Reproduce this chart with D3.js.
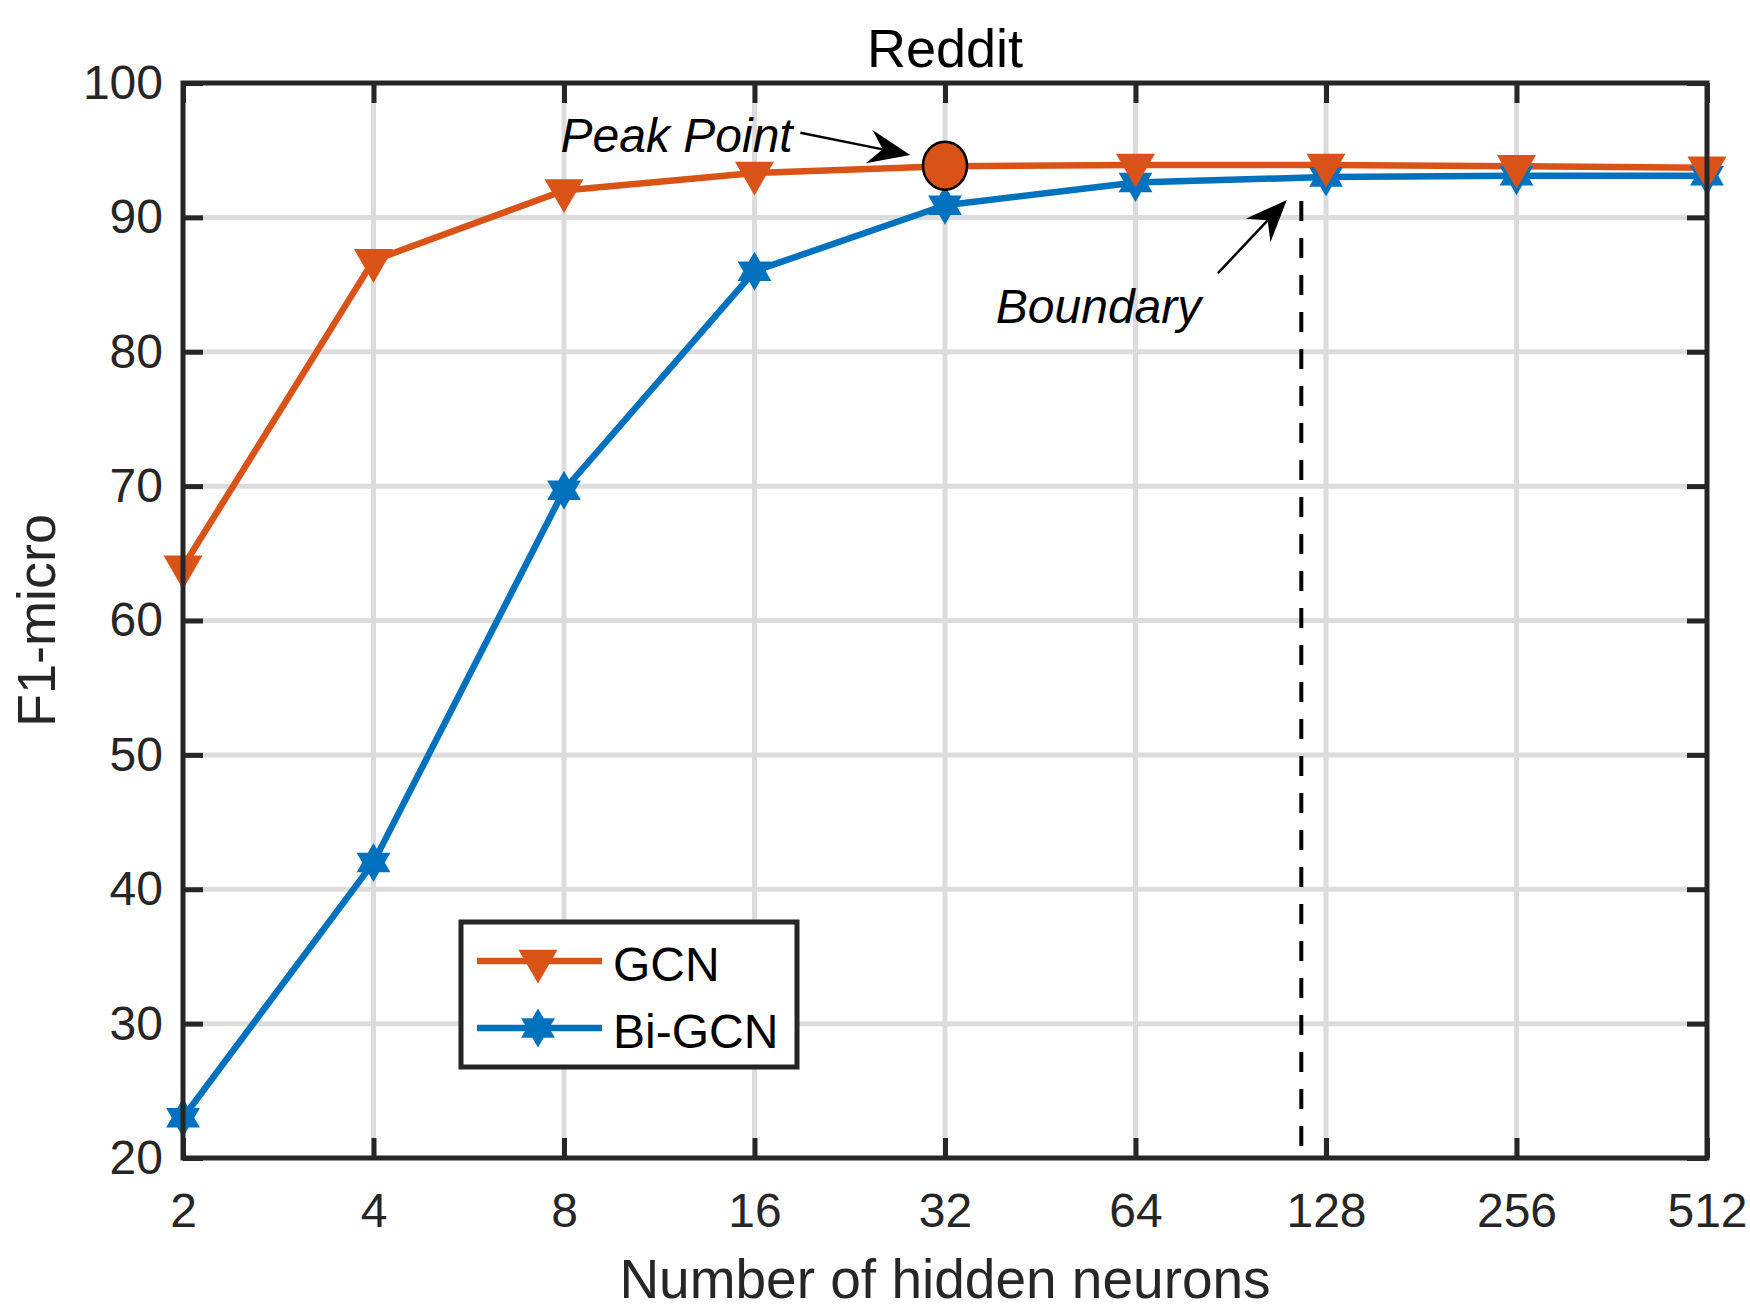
<!DOCTYPE html>
<html lang="en">
<head>
    <meta charset="UTF-8">
    <title>Reddit</title>
    <script src="https://cdn.jsdelivr.net/npm/d3@7"></script>
    <style>
        body { margin: 0; background: #fff; }
        text { font-family: "Liberation Sans", Arial, Helvetica, sans-serif; }
    </style>
</head>
<body>
<script>
    // data
    let neurons = [2, 4, 8, 16, 32, 64, 128, 256, 512];
    let gcn = [64, 86.8, 92, 93.3, 93.8, 93.9, 93.9, 93.8, 93.7];
    let biGcn = [23, 42, 69.7, 86, 90.9, 92.6, 93, 93.1, 93.1];
    let yTicks = [20, 30, 40, 50, 60, 70, 80, 90, 100];
    let seriesNames = ["GCN", "Bi-GCN"];

    // annotations (data coordinates)
    let peak = {x: 32, y: 93.85};
    let peakArrow = {x0: 18.9, y0: 96.3, x1: 28.2, y1: 94.65};
    let peakLabel = {x: 7.9, y: 94.85, text: "Peak Point"};
    let boundary = {x: 117, y0: 20.9, y1: 92.2};
    let boundaryArrow = {x0: 86.4, y0: 85.85, x1: 111, y1: 91.3};
    let boundaryLabel = {x: 38.5, y: 82.15, text: "Boundary"};

    let width = 1750, height = 1313;
    let padL = 183, padR = 1707, padT = 83, padB = 1158;
    let orange = "#D95319", blue = "#0072BD", axisColor = "#262626";

    let svg = d3.select("body").append("svg")
        .attr("width", width)
        .attr("height", height);

    let x = d3.scaleLog().base(2).domain([2, 512]).range([padL, padR]);
    let y = d3.scaleLinear().domain([20, 100]).range([padB, padT]);

    // grid
    svg.append("g").selectAll("line").data(neurons.slice(1, -1)).join("line")
        .attr("x1", d => x(d)).attr("x2", d => x(d))
        .attr("y1", padT).attr("y2", padB)
        .attr("stroke", "#dcdcdc").attr("stroke-width", 5);
    svg.append("g").selectAll("line").data(yTicks.slice(1, -1)).join("line")
        .attr("y1", d => y(d)).attr("y2", d => y(d))
        .attr("x1", padL).attr("x2", padR)
        .attr("stroke", "#dcdcdc").attr("stroke-width", 5);

    // axes with inward ticks on all four sides
    let tickLen = 20;
    function styleAxis(g) {
        g.select(".domain").remove();
        g.selectAll(".tick line").attr("stroke", axisColor).attr("stroke-width", 5);
        g.selectAll(".tick text")
            .attr("fill", axisColor)
            .attr("font-size", "48px");
    }

    svg.append("g")
        .attr("transform", "translate(0," + padB + ")")
        .call(d3.axisBottom(x).tickValues(neurons).tickFormat(d3.format("d"))
            .tickSizeInner(-tickLen).tickSizeOuter(0))
        .call(styleAxis)
        .call(g => g.selectAll(".tick text").attr("dy", "0.71em").attr("y", 35));

    svg.append("g")
        .attr("transform", "translate(0," + padT + ")")
        .call(d3.axisTop(x).tickValues(neurons).tickFormat("").tickSizeInner(-tickLen).tickSizeOuter(0))
        .call(styleAxis);

    svg.append("g")
        .attr("transform", "translate(" + padL + ",0)")
        .call(d3.axisLeft(y).tickValues(yTicks).tickSizeInner(-tickLen).tickSizeOuter(0))
        .call(styleAxis)
        .call(g => g.selectAll(".tick text").attr("x", -20));

    svg.append("g")
        .attr("transform", "translate(" + padR + ",0)")
        .call(d3.axisRight(y).tickValues(yTicks).tickFormat("").tickSizeInner(-tickLen).tickSizeOuter(0))
        .call(styleAxis);

    // dashed boundary
    svg.append("line")
        .attr("x1", x(boundary.x)).attr("x2", x(boundary.x))
        .attr("y1", y(boundary.y0)).attr("y2", y(boundary.y1))
        .attr("stroke", "#000").attr("stroke-width", 4)
        .attr("stroke-dasharray", "20,17");

    // markers
    let triangle = d3.symbol().type(d3.symbolTriangle).size(660);
    function hexagram(r) {
        let pts = [];
        for (let i = 0; i < 12; i++) {
            let a = -Math.PI / 2 + i * Math.PI / 6;
            let rr = i % 2 === 0 ? r : r / Math.sqrt(3);
            pts.push([rr * Math.cos(a), rr * Math.sin(a)]);
        }
        return "M" + pts.map(p => p.join(",")).join("L") + "Z";
    }

    let line = d3.line()
        .x((d, i) => x(neurons[i]))
        .y(d => y(d));

    svg.append("path")
        .attr("d", line(biGcn))
        .attr("fill", "none").attr("stroke", blue).attr("stroke-width", 6.5)
        .attr("stroke-linejoin", "round");
    svg.append("path")
        .attr("d", line(gcn))
        .attr("fill", "none").attr("stroke", orange).attr("stroke-width", 6.5)
        .attr("stroke-linejoin", "round");

    svg.append("g").selectAll("path").data(biGcn).join("path")
        .attr("transform", (d, i) => "translate(" + x(neurons[i]) + "," + y(d) + ")")
        .attr("d", hexagram(19.5))
        .attr("fill", blue);
    svg.append("g").selectAll("path").data(gcn).join("path")
        .attr("transform", (d, i) => "translate(" + x(neurons[i]) + "," + y(d) + ") rotate(180)")
        .attr("d", triangle())
        .attr("fill", orange);

    // peak point
    svg.append("ellipse")
        .attr("cx", x(peak.x)).attr("cy", y(peak.y))
        .attr("rx", 22).attr("ry", 24)
        .attr("fill", orange).attr("stroke", "#000").attr("stroke-width", 2.5);

    // arrows
    function arrow(a) {
        let x0 = x(a.x0), y0 = y(a.y0), x1 = x(a.x1), y1 = y(a.y1);
        let len = Math.hypot(x1 - x0, y1 - y0);
        let ux = (x1 - x0) / len, uy = (y1 - y0) / len;
        let px = -uy, py = ux;
        let L = 42, W = 17, N = 28;
        svg.append("line")
            .attr("x1", x0).attr("y1", y0)
            .attr("x2", x1 - ux * N).attr("y2", y1 - uy * N)
            .attr("stroke", "#000").attr("stroke-width", 2.5);
        let head = [
            [x1, y1],
            [x1 - ux * L + px * W, y1 - uy * L + py * W],
            [x1 - ux * N, y1 - uy * N],
            [x1 - ux * L - px * W, y1 - uy * L - py * W]
        ];
        svg.append("path")
            .attr("d", "M" + head.map(p => p.join(",")).join("L") + "Z")
            .attr("fill", "#000");
    }
    arrow(peakArrow);
    arrow(boundaryArrow);

    svg.append("text")
        .attr("x", x(peakLabel.x)).attr("y", y(peakLabel.y))
        .attr("font-size", "48px").attr("font-style", "italic")
        .text(peakLabel.text);
    svg.append("text")
        .attr("x", x(boundaryLabel.x)).attr("y", y(boundaryLabel.y))
        .attr("font-size", "48px").attr("font-style", "italic")
        .text(boundaryLabel.text);

    // frame
    svg.append("rect")
        .attr("x", padL).attr("y", padT)
        .attr("width", padR - padL).attr("height", padB - padT)
        .attr("fill", "none").attr("stroke", axisColor).attr("stroke-width", 5);

    // legend
    let legend = svg.append("g");
    legend.append("rect")
        .attr("x", 461).attr("y", 922).attr("width", 336).attr("height", 145)
        .attr("fill", "#fff").attr("stroke", axisColor).attr("stroke-width", 5);
    let legendRows = [
        {name: seriesNames[0], color: orange, y: 961, mark: "tri"},
        {name: seriesNames[1], color: blue, y: 1028, mark: "hex"}
    ];
    legendRows.forEach(r => {
        legend.append("line")
            .attr("x1", 477).attr("x2", 602).attr("y1", r.y).attr("y2", r.y)
            .attr("stroke", r.color).attr("stroke-width", 6.5);
        legend.append("path")
            .attr("transform", "translate(538," + r.y + ")" + (r.mark === "tri" ? " rotate(180)" : ""))
            .attr("d", r.mark === "tri" ? triangle() : hexagram(19.5))
            .attr("fill", r.color);
        legend.append("text")
            .attr("x", 613).attr("y", r.y + 20)
            .attr("font-size", "48px").attr("fill", "#000")
            .text(r.name);
    });

    // titles
    svg.append("text")
        .attr("x", (padL + padR) / 2).attr("y", 67)
        .attr("text-anchor", "middle").attr("font-size", "54px")
        .text("Reddit");
    svg.append("text")
        .attr("x", (padL + padR) / 2).attr("y", 1298)
        .attr("text-anchor", "middle").attr("font-size", "55px").attr("fill", axisColor)
        .text("Number of hidden neurons");
    svg.append("text")
        .attr("transform", "translate(55," + (padT + padB) / 2 + ") rotate(-90)")
        .attr("text-anchor", "middle").attr("font-size", "54px").attr("fill", axisColor)
        .text("F1-micro");
</script>
</body>
</html>
